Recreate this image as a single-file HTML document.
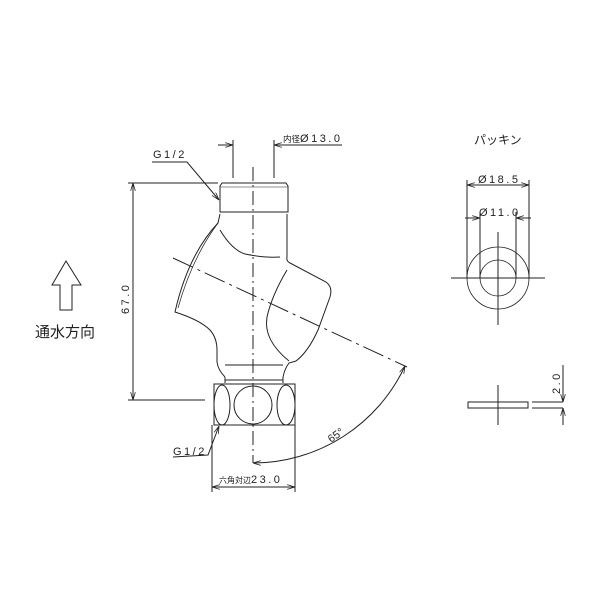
<!DOCTYPE html>
<html><head><meta charset="utf-8"><style>
html,body{margin:0;padding:0;background:#fff;}
svg{display:block;}
text{font-family:"Liberation Sans","Noto Sans CJK JP",sans-serif;fill:#222;}
.sp{letter-spacing:2.5px;}
</style></head><body>
<svg width="600" height="600" viewBox="0 0 600 600" xmlns="http://www.w3.org/2000/svg">
<defs>
<marker id="a" viewBox="0 0 10 6" refX="10" refY="3" markerWidth="8" markerHeight="5" orient="auto-start-reverse" markerUnits="userSpaceOnUse"><path d="M0,0 L10,3 L0,6" fill="none" stroke="#222" stroke-width="1"/></marker>
</defs>
<g fill="none" stroke="#222" stroke-width="1">
<path d="M66,261 L81,285 L72,285 L72,310 L60,310 L60,285 L52,285 Z"/>
<path d="M222,183 L286,183 L288,186 L288,212 L220,212 L220,186 Z"/>
<path d="M220,187 L288,187" stroke-width="0.6"/>
<path d="M220,214 L218,223 Q188,255 175,312 Q200,320 210,330 Q217,338 217,350 L217,362 Q218,370 225,377"/>
<path d="M218,223 Q192,258 178,308" stroke-width="0.7"/>
<path d="M287,214 L287,257 Q286,261 290,263 L326,282 Q333,287 330,297 L318,330 Q308,352 296,361 L289,363 Q285,368 283,377"/>
<path d="M220,230 Q232,250 245,254 Q265,258 280,257"/>
<path d="M287,270 Q272,295 267,317 Q263,340 289,361"/>
<path d="M225,365 L283,365"/>
<path d="M225,377 L225,383 M283,377 L283,383 M225,380 L283,380"/>
<rect x="214" y="384" width="81" height="41"/>
<ellipse cx="222" cy="405" rx="8" ry="20"/>
<circle cx="253" cy="405" r="19"/>
<ellipse cx="286" cy="405" rx="9" ry="20"/>
<path d="M253,167 L253,463" stroke-dasharray="14,4,2,4"/>
<path d="M173,258 L407,367" stroke-dasharray="22,5,3,5"/>
<path d="M233,140 L233,178 M274,140 L274,178"/>
<path d="M218,145 L233,145" marker-end="url(#a)"/>
<path d="M342,145 L274,145" marker-end="url(#a)"/>
<path d="M152,162 L187,162 L219,200" marker-end="url(#a)"/>
<path d="M128,183 L218,183 M128,400 L205,400"/>
<path d="M133,292 L133,183" marker-end="url(#a)"/>
<path d="M133,292 L133,400" marker-end="url(#a)"/>
<path d="M405,366 A168,168 0 0 1 253,463" marker-start="url(#a)" marker-end="url(#a)"/>
<path d="M173,457 L208,455 L219,426" marker-end="url(#a)"/>
<path d="M212,425 L212,492 M295,425 L295,492"/>
<path d="M253,487 L212,487" marker-end="url(#a)"/>
<path d="M253,487 L295,487" marker-end="url(#a)"/>
<circle cx="498" cy="278" r="31" stroke-width="0.8"/>
<circle cx="498" cy="278" r="18" stroke-width="0.8"/>
<path d="M451,278 L545,278 M498,232 L498,325"/>
<path d="M467,180 L467,278 M529,180 L529,278 M480,212 L480,278 M516,212 L516,278"/>
<path d="M498,185 L467,185" marker-end="url(#a)"/>
<path d="M498,185 L529,185" marker-end="url(#a)"/>
<path d="M465,218 L480,218" marker-end="url(#a)"/>
<path d="M531,218 L516,218" marker-end="url(#a)"/>
<rect x="468" y="402" width="60" height="6"/>
<path d="M498,385 L498,425 M532,402 L563,402 M532,408 L563,408"/>
<path d="M563,365 L563,402" marker-end="url(#a)"/>
<path d="M563,425 L563,408" marker-end="url(#a)"/>
</g>
<text x="35" y="337" font-size="15">通水方向</text>
<text x="283" y="142" font-size="10"><tspan font-size="8.5">内径</tspan><tspan class="sp" font-size="11">Ø13.0</tspan></text>
<text x="153" y="158" font-size="11" class="sp">G1/2</text>
<text x="173" y="455" font-size="11" class="sp">G1/2</text>
<text x="219" y="483"><tspan font-size="8">六角対辺</tspan><tspan class="sp" font-size="11">23.0</tspan></text>
<text x="0" y="0" font-size="11" class="sp" transform="translate(129,314) rotate(-90)">67.0</text>
<text x="0" y="0" font-size="11" transform="translate(331,443) rotate(-35)">65°</text>
<text x="474" y="144" font-size="12">パッキン</text>
<text x="478" y="183" font-size="11" class="sp">Ø18.5</text>
<text x="479" y="216" font-size="11" class="sp">Ø11.0</text>
<text x="0" y="0" font-size="11" class="sp" transform="translate(560,394) rotate(-90)">2.0</text>
</svg>
</body></html>
